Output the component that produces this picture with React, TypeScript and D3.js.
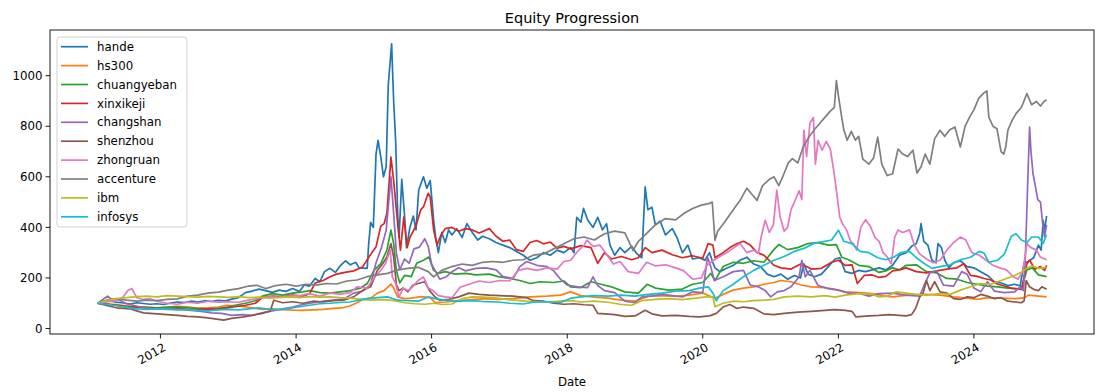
import React from 'react';
import * as d3 from 'd3';

// values, as [decimal year, equity]
const hande: [number, number][] = [
  [2011.07,100],[2011.15,105],[2011.25,109],[2011.35,104],[2011.45,101],[2011.55,97],[2011.65,102],[2011.75,99],[2011.85,96],[2011.95,98],
  [2012.05,95],[2012.15,101],[2012.25,105],[2012.35,103],[2012.45,108],[2012.55,105],[2012.65,110],[2012.75,107],[2012.85,111],[2012.95,109],
  [2013.05,116],[2013.15,122],[2013.25,142],[2013.35,148],[2013.45,156],[2013.55,150],[2013.65,143],[2013.75,152],[2013.85,147],[2013.95,158],
  [2014.05,146],[2014.12,172],[2014.2,168],[2014.28,198],[2014.35,185],[2014.42,225],[2014.5,238],[2014.58,222],[2014.65,248],[2014.73,268],[2014.8,252],[2014.88,262],[2014.93,240],
  [2015.05,238],[2015.07,330],[2015.1,420],[2015.14,400],[2015.18,690],[2015.21,744],[2015.25,680],[2015.29,600],[2015.33,640],[2015.36,960],[2015.41,1126],[2015.44,900],[2015.47,740],[2015.5,450],[2015.52,360],[2015.56,590],[2015.6,450],[2015.63,320],[2015.68,400],[2015.73,445],[2015.77,390],[2015.81,548],[2015.88,600],[2015.93,555],[2015.98,585],
  [2016.03,430],[2016.06,360],[2016.1,300],[2016.15,380],[2016.2,340],[2016.25,390],[2016.3,370],[2016.37,395],[2016.45,360],[2016.52,415],[2016.6,380],[2016.68,350],[2016.75,365],[2016.85,355],[2016.95,340],
  [2017.05,330],[2017.15,320],[2017.25,305],[2017.35,290],[2017.45,270],[2017.55,280],[2017.65,300],[2017.75,290],[2017.85,310],[2017.95,300],
  [2018.05,320],[2018.1,300],[2018.14,440],[2018.2,420],[2018.24,475],[2018.3,430],[2018.38,400],[2018.45,440],[2018.52,390],[2018.58,415],[2018.63,330],[2018.7,290],[2018.78,320],[2018.85,300],[2018.95,325],
  [2019.03,295],[2019.1,280],[2019.15,560],[2019.19,470],[2019.25,480],[2019.3,410],[2019.37,425],[2019.45,370],[2019.55,395],[2019.62,360],[2019.7,300],[2019.78,330],[2019.85,275],[2019.95,280],
  [2020.03,270],[2020.1,300],[2020.15,260],[2020.18,240],[2020.25,225],[2020.35,238],[2020.45,250],[2020.55,270],[2020.65,282],[2020.75,255],[2020.85,245],[2020.95,215],
  [2021.05,205],[2021.15,215],[2021.25,195],[2021.35,210],[2021.44,200],[2021.49,256],[2021.55,215],[2021.65,205],[2021.75,215],[2021.85,245],[2021.95,275],
  [2022.02,280],[2022.1,225],[2022.2,218],[2022.3,230],[2022.4,225],[2022.5,232],[2022.6,240],[2022.7,232],[2022.8,250],[2022.9,290],
  [2023.0,300],[2023.08,325],[2023.15,336],[2023.2,376],[2023.22,415],[2023.26,345],[2023.32,330],[2023.38,270],[2023.44,260],[2023.47,336],[2023.52,320],[2023.57,270],[2023.63,240],[2023.7,260],[2023.8,268],[2023.9,245],
  [2024.0,240],[2024.1,225],[2024.2,210],[2024.3,185],[2024.4,180],[2024.5,170],[2024.6,175],[2024.68,168],[2024.74,260],[2024.8,265],[2024.88,280],[2024.95,330],[2024.99,310],[2025.02,428],[2025.04,385],[2025.07,445],
];

const hs300: [number, number][] = [
  [2011.07,100],[2011.2,98],[2011.35,95],[2011.5,90],[2011.65,86],[2011.8,84],[2011.95,82],[2012.1,85],[2012.25,88],[2012.4,86],[2012.55,80],[2012.7,82],[2012.85,85],[2012.98,92],
  [2013.1,90],[2013.25,86],[2013.4,80],[2013.5,76],[2013.65,78],[2013.8,75],[2013.95,73],[2014.1,72],[2014.25,74],[2014.4,76],[2014.55,80],[2014.7,83],[2014.8,90],[2014.9,102],[2014.98,115],
  [2015.1,120],[2015.2,140],[2015.3,150],[2015.4,176],[2015.44,160],[2015.5,125],[2015.6,118],[2015.7,120],[2015.85,126],[2015.98,122],
  [2016.05,103],[2016.2,105],[2016.4,110],[2016.6,114],[2016.8,118],[2016.98,115],[2017.2,118],[2017.45,125],[2017.7,128],[2017.9,132],
  [2018.05,145],[2018.2,130],[2018.4,124],[2018.6,120],[2018.8,112],[2019.0,108],[2019.2,128],[2019.4,130],[2019.6,127],[2019.8,132],
  [2020.0,140],[2020.18,120],[2020.3,135],[2020.45,152],[2020.6,160],[2020.75,165],[2020.9,175],[2021.05,182],[2021.15,190],[2021.3,185],[2021.45,172],[2021.6,165],[2021.8,162],[2021.95,155],
  [2022.1,145],[2022.3,142],[2022.5,138],[2022.7,128],[2022.8,125],[2022.95,130],[2023.1,133],[2023.3,135],[2023.5,132],[2023.7,125],[2023.9,120],
  [2024.05,115],[2024.2,122],[2024.4,120],[2024.6,118],[2024.75,122],[2024.8,132],[2024.95,128],[2025.07,125],
];

const chuangyeban: [number, number][] = [
  [2011.07,100],[2011.2,97],[2011.35,92],[2011.5,88],[2011.65,86],[2011.8,84],[2011.95,82],[2012.1,84],[2012.25,86],[2012.4,82],[2012.55,80],[2012.7,78],[2012.85,80],[2012.98,85],
  [2013.1,92],[2013.25,100],[2013.4,110],[2013.5,128],[2013.65,138],[2013.8,132],[2013.95,140],[2014.1,145],[2014.2,150],[2014.35,142],[2014.5,140],[2014.65,145],[2014.8,150],[2014.95,160],
  [2015.05,178],[2015.15,230],[2015.25,257],[2015.34,310],[2015.4,389],[2015.44,336],[2015.48,230],[2015.53,180],[2015.6,210],[2015.7,205],[2015.78,258],[2015.88,270],[2015.96,283],
  [2016.03,230],[2016.1,218],[2016.2,225],[2016.35,215],[2016.5,218],[2016.65,212],[2016.85,215],[2016.98,205],[2017.15,198],[2017.3,190],[2017.45,178],[2017.6,185],[2017.8,182],[2017.95,188],
  [2018.05,165],[2018.2,162],[2018.35,185],[2018.5,175],[2018.65,165],[2018.85,145],[2019.05,140],[2019.18,175],[2019.3,160],[2019.5,152],[2019.7,156],[2019.85,175],
  [2020.0,182],[2020.12,218],[2020.18,190],[2020.3,245],[2020.45,262],[2020.6,258],[2020.75,268],[2020.9,262],[2021.04,310],[2021.12,332],[2021.25,312],[2021.4,320],[2021.55,336],[2021.7,340],[2021.85,330],[2021.97,332],
  [2022.05,282],[2022.15,272],[2022.3,250],[2022.45,245],[2022.6,222],[2022.7,228],[2022.8,240],[2022.9,232],[2023.0,250],[2023.15,252],[2023.3,225],[2023.45,220],[2023.6,198],[2023.75,195],[2023.9,182],
  [2024.05,175],[2024.2,168],[2024.35,165],[2024.5,160],[2024.7,155],[2024.78,232],[2024.86,240],[2024.95,212],[2025.07,205],
];

const xinxikeji: [number, number][] = [
  [2011.07,100],[2011.2,96],[2011.35,92],[2011.5,86],[2011.65,84],[2011.8,82],[2011.95,80],[2012.1,78],[2012.25,80],[2012.4,76],[2012.55,75],[2012.7,78],[2012.85,76],[2012.98,82],
  [2013.1,86],[2013.25,92],[2013.4,100],[2013.5,122],[2013.65,128],[2013.8,125],[2013.95,132],[2014.1,128],[2014.2,138],[2014.28,180],[2014.4,190],[2014.5,205],[2014.6,215],[2014.72,222],[2014.85,228],[2014.98,243],
  [2015.08,285],[2015.18,323],[2015.25,405],[2015.3,415],[2015.34,455],[2015.4,678],[2015.44,586],[2015.49,441],[2015.54,310],[2015.59,441],[2015.64,320],[2015.68,360],[2015.74,390],[2015.78,415],[2015.84,470],[2015.88,481],[2015.95,535],[2015.98,520],
  [2016.03,390],[2016.08,330],[2016.13,365],[2016.2,395],[2016.3,400],[2016.4,385],[2016.5,395],[2016.6,390],[2016.7,378],[2016.85,395],[2016.95,365],
  [2017.05,345],[2017.15,350],[2017.25,312],[2017.35,305],[2017.45,340],[2017.55,348],[2017.65,335],[2017.75,342],[2017.85,318],[2017.95,325],
  [2018.05,315],[2018.2,328],[2018.35,320],[2018.45,258],[2018.55,300],[2018.65,275],[2018.8,285],[2018.95,272],[2019.05,280],[2019.15,320],[2019.25,300],[2019.4,310],[2019.55,292],[2019.7,280],[2019.85,288],
  [2020.0,278],[2020.08,336],[2020.15,330],[2020.18,280],[2020.3,300],[2020.4,320],[2020.5,335],[2020.6,345],[2020.7,330],[2020.8,300],[2020.9,290],
  [2021.05,250],[2021.15,240],[2021.3,235],[2021.45,256],[2021.6,235],[2021.75,238],[2021.9,262],[2022.0,270],[2022.1,250],[2022.2,252],[2022.28,178],[2022.38,210],[2022.5,212],[2022.6,202],[2022.7,206],[2022.8,228],[2022.9,232],
  [2023.0,240],[2023.15,225],[2023.3,220],[2023.45,228],[2023.6,235],[2023.75,240],[2023.85,256],[2023.95,210],
  [2024.05,206],[2024.15,198],[2024.25,192],[2024.35,175],[2024.45,168],[2024.55,160],[2024.7,155],[2024.78,256],[2024.82,270],[2024.9,235],[2024.98,245],[2025.04,230],[2025.07,250],
];

const changshan: [number, number][] = [
  [2011.07,100],[2011.15,115],[2011.22,128],[2011.3,110],[2011.4,112],[2011.5,98],[2011.6,92],[2011.72,84],[2011.85,80],[2011.98,78],
  [2012.15,78],[2012.3,75],[2012.45,72],[2012.6,68],[2012.75,62],[2012.9,60],[2013.05,52],[2013.2,55],[2013.35,52],[2013.5,62],[2013.65,70],[2013.8,78],[2013.95,85],
  [2014.1,95],[2014.25,102],[2014.4,108],[2014.55,112],[2014.7,116],[2014.85,140],[2014.98,148],
  [2015.1,175],[2015.18,260],[2015.26,320],[2015.33,389],[2015.4,600],[2015.44,455],[2015.48,300],[2015.53,232],[2015.6,275],[2015.67,258],[2015.74,315],[2015.82,322],[2015.9,355],[2015.95,325],
  [2016.0,255],[2016.05,230],[2016.12,195],[2016.22,205],[2016.3,225],[2016.4,240],[2016.5,228],[2016.65,238],[2016.8,240],[2016.95,232],
  [2017.05,205],[2017.2,198],[2017.3,245],[2017.4,265],[2017.55,250],[2017.7,245],[2017.8,228],[2017.9,195],
  [2018.0,172],[2018.15,165],[2018.3,162],[2018.38,204],[2018.45,170],[2018.55,150],[2018.7,142],[2018.85,108],[2019.0,102],[2019.1,125],[2019.25,128],[2019.4,135],[2019.55,130],[2019.7,125],[2019.85,145],
  [2020.0,142],[2020.07,283],[2020.12,243],[2020.17,190],[2020.3,205],[2020.45,225],[2020.6,230],[2020.7,172],[2020.82,165],[2020.92,150],
  [2021.0,125],[2021.1,145],[2021.2,150],[2021.3,165],[2021.42,204],[2021.46,270],[2021.51,204],[2021.58,230],[2021.7,170],[2021.85,158],
  [2022.0,152],[2022.15,140],[2022.3,140],[2022.45,128],[2022.6,138],[2022.8,140],[2023.0,132],[2023.2,128],[2023.27,175],[2023.35,220],[2023.45,228],[2023.55,172],[2023.7,168],[2023.82,225],[2023.9,215],
  [2024.0,160],[2024.1,145],[2024.2,185],[2024.3,148],[2024.45,142],[2024.6,145],[2024.68,165],[2024.73,150],[2024.76,300],[2024.79,560],[2024.82,797],[2024.84,700],[2024.87,612],[2024.9,570],[2024.94,510],[2024.98,500],[2025.01,420],[2025.04,362],[2025.07,410],
];

const shenzhou: [number, number][] = [
  [2011.07,100],[2011.15,95],[2011.25,88],[2011.35,82],[2011.45,80],[2011.55,78],[2011.65,70],[2011.75,62],[2011.85,60],[2011.95,58],
  [2012.1,55],[2012.25,52],[2012.4,48],[2012.55,46],[2012.7,42],[2012.85,36],[2012.93,33],[2013.05,40],[2013.2,45],[2013.35,52],[2013.5,60],[2013.62,70],[2013.67,112],[2013.8,102],[2013.95,106],
  [2014.1,100],[2014.25,108],[2014.4,105],[2014.55,110],[2014.7,112],[2014.85,125],[2014.98,150],
  [2015.1,165],[2015.2,230],[2015.28,257],[2015.34,283],[2015.4,336],[2015.44,283],[2015.48,175],[2015.52,150],[2015.58,160],[2015.65,145],[2015.72,170],[2015.8,178],[2015.9,185],[2015.97,150],
  [2016.05,125],[2016.12,112],[2016.25,115],[2016.4,125],[2016.55,140],[2016.7,135],[2016.85,132],[2017.0,130],[2017.2,128],[2017.4,122],[2017.5,110],[2017.65,108],[2017.8,100],[2017.95,96],
  [2018.1,98],[2018.25,94],[2018.38,92],[2018.45,60],[2018.55,58],[2018.7,55],[2018.85,48],[2019.0,50],[2019.15,72],[2019.25,58],[2019.4,50],[2019.6,52],[2019.8,48],[2019.95,46],
  [2020.1,50],[2020.2,60],[2020.3,85],[2020.4,95],[2020.5,80],[2020.6,85],[2020.75,80],[2020.9,58],[2021.05,55],[2021.2,60],[2021.4,65],[2021.6,68],[2021.8,72],[2021.95,75],
  [2022.1,72],[2022.2,68],[2022.26,46],[2022.45,50],[2022.6,52],[2022.75,55],[2022.9,52],[2023.0,50],[2023.08,55],[2023.14,80],[2023.2,125],[2023.25,140],[2023.3,190],[2023.35,150],[2023.42,185],[2023.5,145],[2023.6,140],[2023.7,118],[2023.8,115],[2023.9,125],
  [2024.0,122],[2024.1,135],[2024.2,128],[2024.3,118],[2024.4,122],[2024.5,108],[2024.6,105],[2024.7,102],[2024.74,110],[2024.77,190],[2024.82,165],[2024.88,155],[2024.95,150],[2025.0,165],[2025.07,155],
];

const zhongruan: [number, number][] = [
  [2011.07,100],[2011.2,105],[2011.35,110],[2011.45,125],[2011.52,150],[2011.58,158],[2011.65,122],[2011.75,115],[2011.85,118],[2011.95,108],
  [2012.1,100],[2012.25,96],[2012.4,104],[2012.55,100],[2012.7,108],[2012.85,104],[2013.0,106],[2013.15,104],[2013.3,112],[2013.45,120],[2013.6,125],[2013.75,124],[2013.9,128],
  [2014.05,130],[2014.2,138],[2014.35,128],[2014.5,140],[2014.65,136],[2014.8,142],[2014.9,165],
  [2015.05,160],[2015.15,200],[2015.25,230],[2015.32,257],[2015.39,310],[2015.42,204],[2015.47,178],[2015.52,125],[2015.58,160],[2015.65,150],[2015.72,165],[2015.8,190],[2015.88,204],[2015.95,160],
  [2016.02,150],[2016.1,130],[2016.2,125],[2016.3,122],[2016.42,163],[2016.55,175],[2016.7,188],[2016.85,182],[2017.0,190],[2017.15,188],[2017.28,230],[2017.4,238],[2017.55,230],[2017.7,240],[2017.85,235],[2017.95,265],
  [2018.05,270],[2018.15,305],[2018.25,330],[2018.29,350],[2018.38,325],[2018.48,330],[2018.58,295],[2018.68,255],[2018.78,265],[2018.9,225],
  [2019.05,218],[2019.17,262],[2019.3,248],[2019.45,252],[2019.6,240],[2019.72,228],[2019.85,195],[2019.98,200],
  [2020.06,250],[2020.15,268],[2020.25,285],[2020.35,300],[2020.45,318],[2020.55,336],[2020.65,300],[2020.75,310],[2020.82,298],[2020.86,362],[2020.92,428],[2020.98,380],
  [2021.04,410],[2021.09,547],[2021.14,440],[2021.2,385],[2021.25,400],[2021.3,470],[2021.35,500],[2021.42,545],[2021.46,510],[2021.49,784],[2021.53,680],[2021.58,812],[2021.63,835],[2021.66,650],[2021.7,744],[2021.76,705],[2021.82,740],[2021.88,710],[2021.93,626],[2021.97,547],
  [2022.02,440],[2022.06,415],[2022.12,390],[2022.18,345],[2022.22,336],[2022.27,310],[2022.33,400],[2022.4,430],[2022.47,405],[2022.54,360],[2022.6,345],[2022.66,300],[2022.72,283],[2022.78,256],[2022.83,360],[2022.88,390],[2022.95,380],
  [2023.05,390],[2023.12,330],[2023.2,295],[2023.3,275],[2023.4,260],[2023.5,270],[2023.6,310],[2023.7,340],[2023.8,362],[2023.88,350],[2023.97,300],
  [2024.08,290],[2024.18,270],[2024.28,250],[2024.38,240],[2024.48,232],[2024.58,205],[2024.65,195],[2024.72,225],[2024.78,336],[2024.84,320],[2024.92,310],[2024.98,282],[2025.07,272],
];

const accenture: [number, number][] = [
  [2011.07,100],[2011.2,112],[2011.35,118],[2011.5,112],[2011.65,108],[2011.8,112],[2011.95,110],[2012.1,115],[2012.25,117],[2012.4,128],[2012.55,132],[2012.7,140],[2012.85,144],
  [2013.0,152],[2013.15,158],[2013.3,168],[2013.42,171],[2013.55,158],[2013.7,170],[2013.85,175],[2014.0,168],[2014.15,175],[2014.3,172],[2014.45,178],[2014.6,176],[2014.75,188],[2014.9,192],
  [2015.05,205],[2015.2,212],[2015.35,218],[2015.5,232],[2015.65,238],[2015.8,242],[2015.95,225],[2016.03,204],[2016.15,230],[2016.3,245],[2016.45,255],[2016.6,250],[2016.75,262],[2016.9,265],
  [2017.05,262],[2017.2,270],[2017.35,272],[2017.5,290],[2017.65,295],[2017.8,315],[2017.95,335],[2018.1,355],[2018.25,362],[2018.4,350],[2018.55,375],[2018.7,385],[2018.85,378],[2018.97,309],
  [2019.05,345],[2019.15,370],[2019.3,410],[2019.45,435],[2019.6,430],[2019.72,455],[2019.85,475],[2019.98,488],[2020.1,495],[2020.14,500],[2020.18,349],[2020.22,385],[2020.32,420],[2020.45,470],
  [2020.55,507],[2020.65,555],[2020.72,532],[2020.8,507],[2020.88,565],[2020.98,590],[2021.05,600],[2021.12,565],[2021.19,608],[2021.26,655],[2021.32,672],[2021.4,655],[2021.48,718],[2021.56,755],[2021.64,785],[2021.72,810],[2021.8,835],[2021.88,860],[2021.94,875],[2021.97,981],
  [2022.0,920],[2022.04,850],[2022.08,785],[2022.13,745],[2022.19,780],[2022.25,745],[2022.3,760],[2022.36,670],[2022.45,650],[2022.52,675],[2022.58,757],[2022.64,650],[2022.72,605],[2022.8,612],[2022.88,710],[2022.95,690],
  [2023.02,680],[2023.1,705],[2023.16,615],[2023.22,640],[2023.28,690],[2023.35,650],[2023.42,750],[2023.5,784],[2023.57,760],[2023.64,785],[2023.72,797],[2023.8,718],[2023.87,800],[2023.94,838],
  [2024.0,865],[2024.07,910],[2024.14,930],[2024.19,940],[2024.22,836],[2024.28,800],[2024.34,790],[2024.4,700],[2024.44,690],[2024.47,720],[2024.5,784],[2024.56,822],[2024.62,850],[2024.7,875],[2024.78,929],[2024.85,885],[2024.92,898],[2024.98,880],[2025.04,900],[2025.07,905],
];

const ibm: [number, number][] = [
  [2011.07,100],[2011.2,110],[2011.35,118],[2011.5,122],[2011.65,126],[2011.8,128],[2011.95,125],[2012.1,130],[2012.25,128],[2012.4,126],[2012.55,124],[2012.7,127],[2012.85,125],
  [2013.0,123],[2013.15,126],[2013.3,122],[2013.45,124],[2013.6,120],[2013.75,122],[2013.9,125],[2014.05,122],[2014.2,126],[2014.35,124],[2014.5,125],[2014.65,122],[2014.8,120],[2014.95,115],
  [2015.1,112],[2015.3,114],[2015.45,110],[2015.6,102],[2015.75,98],[2015.9,96],[2016.05,100],[2016.15,95],[2016.3,97],[2016.45,118],[2016.6,125],[2016.75,124],[2016.9,122],
  [2017.1,115],[2017.3,110],[2017.5,106],[2017.7,104],[2017.9,108],[2018.05,110],[2018.2,105],[2018.4,108],[2018.6,104],[2018.8,95],[2018.95,92],
  [2019.1,110],[2019.3,115],[2019.5,118],[2019.7,114],[2019.9,120],[2020.05,125],[2020.15,125],[2020.18,86],[2020.3,100],[2020.45,108],[2020.6,106],[2020.75,110],[2020.9,112],
  [2021.05,115],[2021.2,125],[2021.4,128],[2021.6,125],[2021.8,130],[2021.95,124],[2022.1,132],[2022.3,138],[2022.5,135],[2022.6,125],[2022.72,128],[2022.85,145],
  [2023.0,140],[2023.15,135],[2023.3,132],[2023.5,138],[2023.65,135],[2023.8,152],[2023.95,165],[2024.1,178],[2024.25,175],[2024.4,190],[2024.55,205],[2024.68,220],[2024.78,238],[2024.85,248],[2024.95,238],[2025.07,242],
];

const infosys: [number, number][] = [
  [2011.07,100],[2011.2,96],[2011.35,90],[2011.5,84],[2011.65,78],[2011.8,76],[2011.95,78],[2012.1,76],[2012.25,74],[2012.4,76],[2012.55,72],[2012.7,70],[2012.85,74],
  [2013.0,76],[2013.15,74],[2013.3,78],[2013.45,82],[2013.6,76],[2013.75,74],[2013.9,80],[2014.05,86],[2014.2,92],[2014.35,98],[2014.5,100],[2014.65,103],[2014.8,105],[2014.92,112],
  [2015.05,118],[2015.2,122],[2015.35,125],[2015.5,112],[2015.65,110],[2015.8,108],[2015.95,125],[2016.05,118],[2016.2,112],[2016.4,108],[2016.6,110],[2016.8,106],[2016.98,105],
  [2017.15,100],[2017.35,97],[2017.5,104],[2017.7,106],[2017.9,103],[2018.05,120],[2018.2,125],[2018.4,130],[2018.6,128],[2018.8,132],
  [2019.0,128],[2019.2,135],[2019.4,140],[2019.6,148],[2019.8,150],[2019.95,160],[2020.08,165],[2020.15,140],[2020.2,110],[2020.3,150],[2020.45,175],[2020.6,205],[2020.75,230],[2020.9,250],
  [2021.05,270],[2021.2,285],[2021.35,305],[2021.5,318],[2021.65,338],[2021.8,345],[2021.9,350],[2022.0,389],[2022.08,345],[2022.2,336],[2022.32,305],[2022.45,300],[2022.58,280],[2022.7,272],[2022.82,283],[2022.92,300],
  [2023.05,305],[2023.15,280],[2023.25,260],[2023.38,238],[2023.5,245],[2023.65,252],[2023.8,272],[2023.95,282],
  [2024.08,305],[2024.15,298],[2024.22,262],[2024.35,270],[2024.45,295],[2024.55,365],[2024.62,375],[2024.7,350],[2024.78,340],[2024.85,362],[2024.95,362],[2025.02,336],[2025.07,372],
];

const seriesNames = ['hande', 'hs300', 'chuangyeban', 'xinxikeji', 'changshan', 'shenzhou', 'zhongruan', 'accenture', 'ibm', 'infosys'];
const seriesData = [hande, hs300, chuangyeban, xinxikeji, changshan, shenzhou, zhongruan, accenture, ibm, infosys];
const colors = ['#1f77b4', '#ff7f0e', '#2ca02c', '#d62728', '#9467bd', '#8c564b', '#e377c2', '#7f7f7f', '#bcbd22', '#17becf'];

// decimal year -> Date
function toDate(y: number) {
  const yr = Math.floor(y);
  const start = Date.UTC(yr, 0, 1);
  const end = Date.UTC(yr + 1, 0, 1);
  return new Date(start + (y - yr) * (end - start));
}

const W = 1106;
const H = 392;
const margin = { top: 30, right: 12, bottom: 58, left: 50 };
const FONT = 'DejaVu Sans, sans-serif';

export default function App() {
  const innerW = W - margin.left - margin.right;
  const innerH = H - margin.top - margin.bottom;

  const all = seriesData.flat();
  const [t0, t1] = d3.extent(all, (d) => d[0]) as [number, number];
  const [v0, v1] = d3.extent(all, (d) => d[1]) as [number, number];
  const tPad = (t1 - t0) * 0.05;
  const vPad = (v1 - v0) * 0.05;

  const x = d3.scaleUtc().domain([toDate(t0 - tPad), toDate(t1 + tPad)]).range([0, innerW]);
  const y = d3.scaleLinear().domain([v0 - vPad, v1 + vPad]).range([innerH, 0]);

  const line = d3.line<[number, number]>()
    .x((d) => x(toDate(d[0])))
    .y((d) => y(d[1]));

  const xTicks = x.ticks(d3.utcYear.every(2)!);
  const yTicks = y.ticks(5);

  return (
    <svg width={W} height={H} style={{ position: 'absolute', left: 0, top: 0, background: '#fff' }} fontFamily={FONT}>
      <text x={margin.left + innerW / 2} y={23} textAnchor="middle" fontSize={14.5} fill="#000">Equity Progression</text>
      <g transform={`translate(${margin.left},${margin.top})`}>
        <clipPath id="plot-clip"><rect width={innerW} height={innerH} /></clipPath>
        <g clipPath="url(#plot-clip)">
          {seriesData.map((s, i) => (
            <path key={seriesNames[i]} d={line(s) || ''} fill="none" stroke={colors[i]} strokeWidth={1.7} strokeLinejoin="round" />
          ))}
        </g>
        <rect width={innerW} height={innerH} fill="none" stroke="#000" strokeWidth={0.9} />

        {/* y axis */}
        {yTicks.map((t) => (
          <g key={t} transform={`translate(0,${y(t)})`}>
            <line x1={-4.5} x2={0} stroke="#000" strokeWidth={0.9} />
            <text x={-7.5} dy="0.35em" textAnchor="end" fontSize={11.8} fill="#000">{t}</text>
          </g>
        ))}

        {/* x axis */}
        {xTicks.map((t) => (
          <g key={t.getTime()} transform={`translate(${x(t)},${innerH})`}>
            <line y1={0} y2={4.5} stroke="#000" strokeWidth={0.9} />
            <text transform="translate(2,8) rotate(-30)" textAnchor="end" dy="0.75em" fontSize={11.8} fill="#000">
              {d3.utcFormat('%Y')(t)}
            </text>
          </g>
        ))}
        <text x={innerW / 2} y={innerH + 52} textAnchor="middle" fontSize={11.8} fill="#000">Date</text>

        {/* legend */}
        <g transform="translate(7,7)">
          <rect width={130} height={190} rx={3} fill="#fff" fillOpacity={0.8} stroke="#cccccc" strokeWidth={0.9} />
          {seriesNames.map((n, i) => (
            <g key={n} transform={`translate(0,${9.7 + i * 18.9})`}>
              <line x1={4} x2={31} stroke={colors[i]} strokeWidth={1.7} />
              <text x={40} dy="0.35em" fontSize={11.8} fill="#000">{n}</text>
            </g>
          ))}
        </g>
      </g>
    </svg>
  );
}
